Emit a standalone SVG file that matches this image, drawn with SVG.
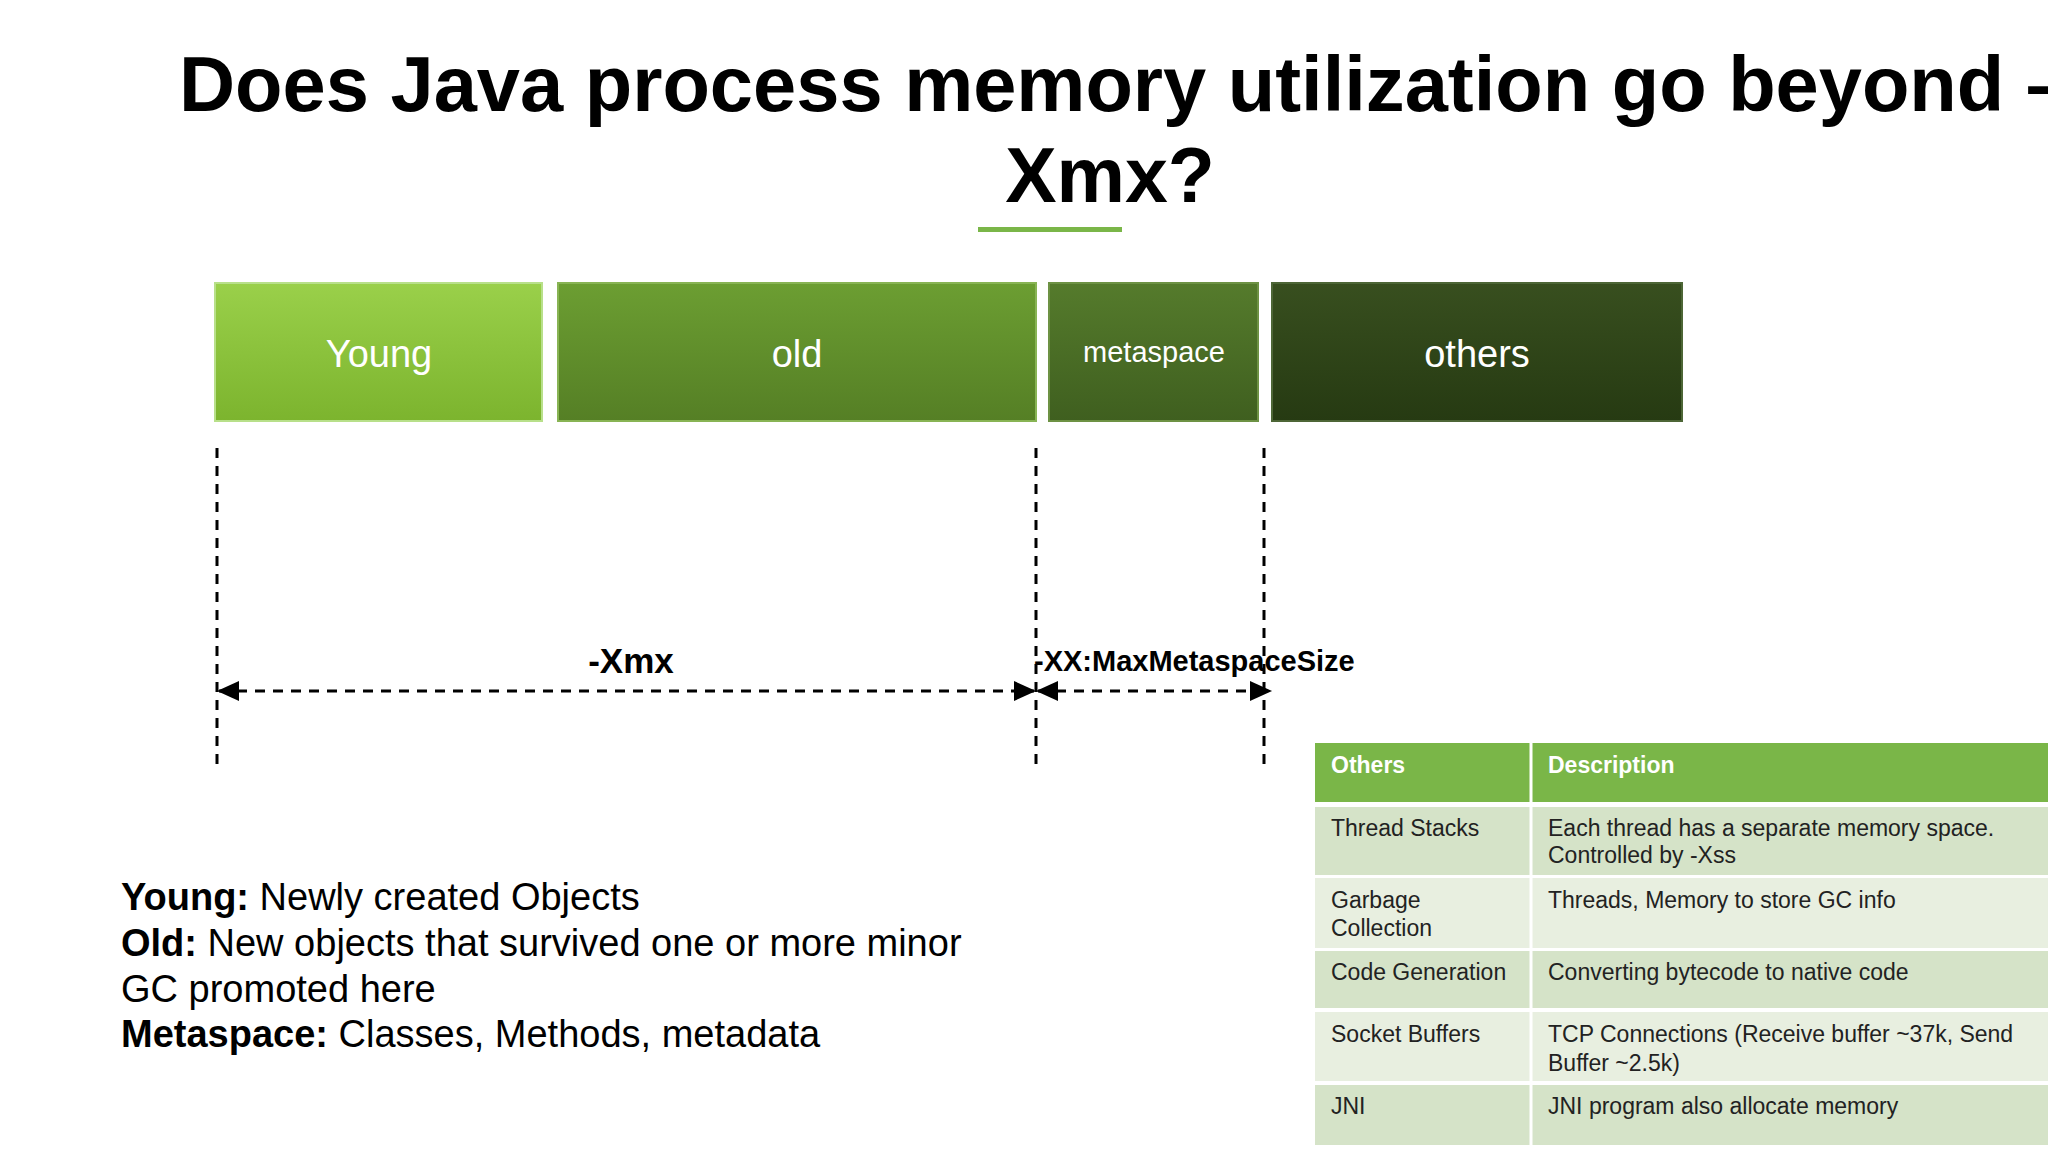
<svg xmlns="http://www.w3.org/2000/svg" width="2048" height="1152" viewBox="0 0 2048 1152">
<style>
text{font-family:"Liberation Sans",Arial,sans-serif}
.t{font-weight:bold;font-size:77px;fill:#000}
.bx{fill:#fff;font-size:38px;text-anchor:middle}
.dl{stroke:#000;stroke-width:3;stroke-dasharray:10 8;fill:none}
.b{font-size:38px;fill:#000}
.th{font-size:23px;font-weight:bold;fill:#fff}
.td{font-size:23px;fill:#222}
</style>
<defs>
<linearGradient id="g1" x1="0" y1="0" x2="0" y2="1"><stop offset="0" stop-color="#9ad04a"/><stop offset="1" stop-color="#7cb42e"/></linearGradient>
<linearGradient id="g2" x1="0" y1="0" x2="0" y2="1"><stop offset="0" stop-color="#6c9e32"/><stop offset="1" stop-color="#557f25"/></linearGradient>
<linearGradient id="g3" x1="0" y1="0" x2="0" y2="1"><stop offset="0" stop-color="#557b2c"/><stop offset="1" stop-color="#3f5f1f"/></linearGradient>
<linearGradient id="g4" x1="0" y1="0" x2="0" y2="1"><stop offset="0" stop-color="#384f1f"/><stop offset="1" stop-color="#263a12"/></linearGradient>
<marker id="a" markerWidth="22" markerHeight="20" refX="20" refY="10" orient="auto-start-reverse" markerUnits="userSpaceOnUse" viewBox="0 0 22 20"><path d="M0,0 L22,10 L0,20 z" fill="#000"/></marker>
</defs>
<rect width="2048" height="1152" fill="#fff"/>
<text class="t" x="179" y="111" textLength="1890" lengthAdjust="spacingAndGlyphs">Does Java process memory utilization go beyond –</text>
<text class="t" x="1110" y="202" text-anchor="middle">Xmx?</text>
<rect x="978" y="227" width="144" height="5" fill="#7ab648"/>
<g id="young"><rect x="215" y="283" width="327" height="138" fill="url(#g1)" stroke="#b8e08a" stroke-width="2"/><text class="bx" x="379" y="367">Young</text></g>
<g id="old"><rect x="558" y="283" width="478" height="138" fill="url(#g2)" stroke="#88b454" stroke-width="2"/><text class="bx" x="797" y="367">old</text></g>
<g id="metaspace"><rect x="1049" y="283" width="209" height="138" fill="url(#g3)" stroke="#6d9244" stroke-width="2"/><text class="bx" x="1154" y="362" style="font-size:29px">metaspace</text></g>
<g id="others"><rect x="1272" y="283" width="410" height="138" fill="url(#g4)" stroke="#4d6636" stroke-width="2"/><text class="bx" x="1477" y="367">others</text></g>
<g id="connectors">
<line class="dl" x1="217" y1="448" x2="217" y2="771"/>
<line class="dl" x1="1036" y1="448" x2="1036" y2="771"/>
<line class="dl" x1="1264" y1="448" x2="1264" y2="771"/>
<line class="dl" x1="219" y1="691" x2="1034" y2="691" marker-start="url(#a)" marker-end="url(#a)"/>
<line class="dl" x1="1038" y1="691" x2="1270" y2="691" marker-start="url(#a)" marker-end="url(#a)"/>
</g>
<text x="631" y="673" text-anchor="middle" style="font-size:35px;font-weight:bold">-Xmx</text>
<text x="1034" y="671" style="font-size:29px;font-weight:bold">-XX:MaxMetaspaceSize</text>
<text class="b" x="121" y="910"><tspan font-weight="bold">Young:</tspan> Newly created Objects</text>
<text class="b" x="121" y="956"><tspan font-weight="bold">Old:</tspan> New objects that survived one or more minor</text>
<text class="b" x="121" y="1002">GC promoted here</text>
<text class="b" x="121" y="1047"><tspan font-weight="bold">Metaspace:</tspan> Classes, Methods, metadata</text>
<g id="table">
<rect x="1315" y="743" width="733" height="59" fill="#7ab648"/>
<rect x="1315" y="807" width="733" height="68" fill="#d5e3c8"/>
<rect x="1315" y="878" width="733" height="70" fill="#e8efe0"/>
<rect x="1315" y="951" width="733" height="57" fill="#d5e3c8"/>
<rect x="1315" y="1012" width="733" height="69" fill="#e8efe0"/>
<rect x="1315" y="1085" width="733" height="60" fill="#d5e3c8"/>
<line x1="1531" y1="743" x2="1531" y2="1145" stroke="#fff" stroke-width="3"/>
<text class="th" x="1331" y="773">Others</text><text class="th" x="1548" y="773">Description</text>
<text class="td" x="1331" y="836">Thread Stacks</text><text class="td" x="1548" y="836">Each thread has a separate memory space.</text><text class="td" x="1548" y="863">Controlled by -Xss</text>
<text class="td" x="1331" y="908">Garbage</text><text class="td" x="1331" y="936">Collection</text><text class="td" x="1548" y="908">Threads, Memory to store GC info</text>
<text class="td" x="1331" y="980">Code Generation</text><text class="td" x="1548" y="980">Converting bytecode to native code</text>
<text class="td" x="1331" y="1042">Socket Buffers</text><text class="td" x="1548" y="1042">TCP Connections (Receive buffer ~37k, Send</text><text class="td" x="1548" y="1071">Buffer ~2.5k)</text>
<text class="td" x="1331" y="1114">JNI</text><text class="td" x="1548" y="1114">JNI program also allocate memory</text>
</g>
</svg>
